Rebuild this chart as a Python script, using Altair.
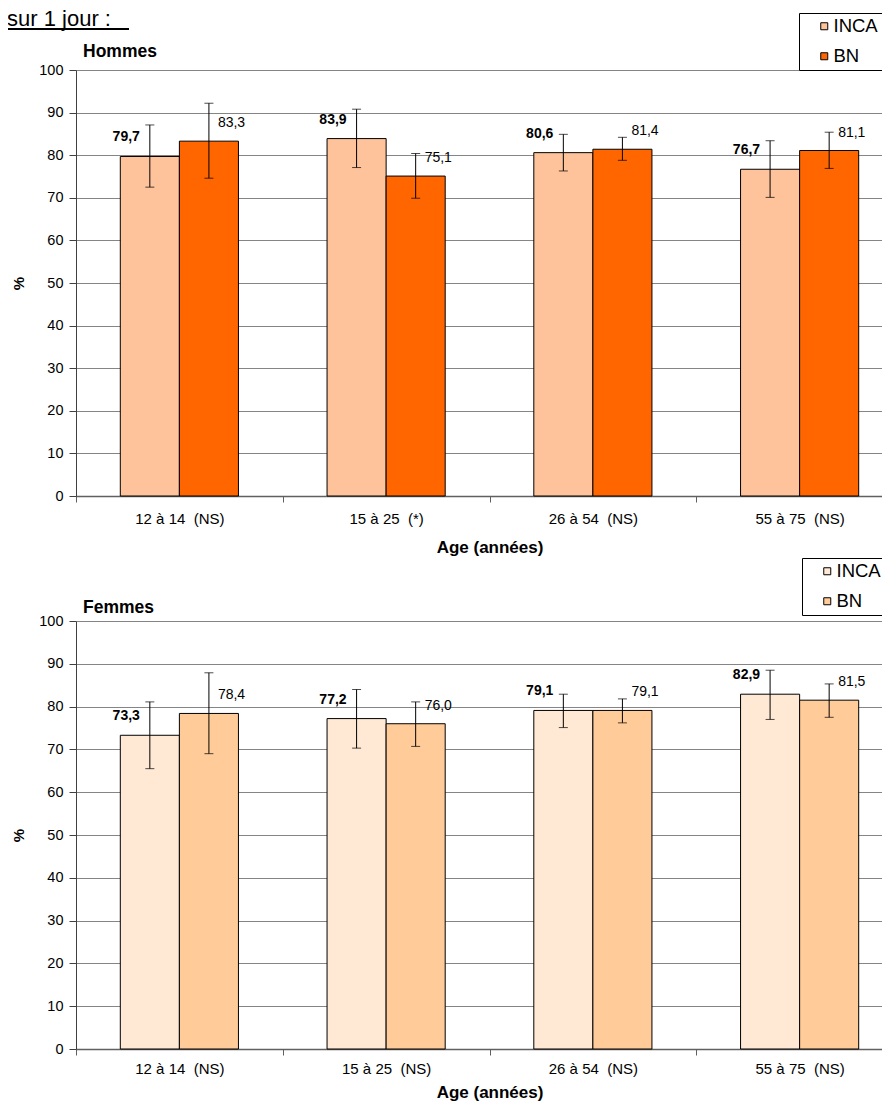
import altair as alt
import pandas as pd

FONT = "Liberation Sans"

series = ["INCA", "BN"]

# Hommes
h_ages = ["12 à 14\u00a0 (NS)", "15 à 25\u00a0 (*)", "26 à 54\u00a0 (NS)", "55 à 75\u00a0 (NS)"]
h_inca = [79.7, 83.9, 80.6, 76.7]
h_bn = [83.3, 75.1, 81.4, 81.1]
h_inca_lo = [72.5, 77.1, 76.3, 70.1]
h_inca_hi = [87.1, 90.8, 84.9, 83.4]
h_bn_lo = [74.6, 69.9, 78.8, 76.9]
h_bn_hi = [92.2, 80.4, 84.2, 85.4]

# Femmes
f_ages = ["12 à 14\u00a0 (NS)", "15 à 25\u00a0 (NS)", "26 à 54\u00a0 (NS)", "55 à 75\u00a0 (NS)"]
f_inca = [73.3, 77.2, 79.1, 82.9]
f_bn = [78.4, 76.0, 79.1, 81.5]
f_inca_lo = [65.5, 70.3, 75.1, 77.0]
f_inca_hi = [81.1, 84.0, 82.9, 88.5]
f_bn_lo = [69.0, 70.7, 76.2, 77.5]
f_bn_hi = [87.9, 81.1, 81.8, 85.3]

h_colors = ["#FFC39B", "#FF6600"]
f_colors = ["#FFE8D4", "#FFCC99"]


def make_df(ages, inca, bn, inca_lo, inca_hi, bn_lo, bn_hi):
    rows = []
    for i, a in enumerate(ages):
        rows.append(dict(age=a, serie="INCA", value=inca[i], lo=inca_lo[i], hi=inca_hi[i]))
        rows.append(dict(age=a, serie="BN", value=bn[i], lo=bn_lo[i], hi=bn_hi[i]))
    df = pd.DataFrame(rows)
    df["label"] = df["value"].map(lambda v: f"{v:.1f}".replace(".", ","))
    return df


def panel(df, ages, colors, name, name_y, legend_x, legend_y, height,
          label_pad, title_pad, extra=None):
    x = alt.X(
        "age:N", sort=ages, title="Age (années)",
        scale=alt.Scale(paddingInner=0, paddingOuter=0),
        axis=alt.Axis(
            labelAngle=0, tickBand="extent", tickSize=6, labelPadding=label_pad,
            titlePadding=title_pad, labelFontSize=15, titleFontSize=17,
            titleFontWeight="bold", domainColor="#606060", domainWidth=1.5,
            tickColor="#606060", grid=False, labelColor="black", titleColor="black",
        ),
    )
    xo = alt.XOffset("serie:N", sort=series,
                     scale=alt.Scale(paddingOuter=0.75, paddingInner=0))
    yax = alt.Axis(
        values=list(range(0, 101, 10)), tickSize=7, labelPadding=6,
        labelFontSize=14.5, labelColor="black", titleFontSize=15,
        titleFontWeight="bold", titleColor="black", titlePadding=12,
        domainColor="#404040", tickColor="#404040", grid=True,
        gridColor="#858585", gridWidth=1,
    )
    base = alt.Chart(df).encode(x=x, xOffset=xo)
    bars = base.mark_bar(stroke="black", strokeWidth=1).encode(
        y=alt.Y("value:Q", title="%", scale=alt.Scale(domain=[0, 100], nice=False), axis=yax),
        color=alt.Color(
            "serie:N", scale=alt.Scale(domain=series, range=colors),
            legend=alt.Legend(
                title=None, orient="none", legendX=legend_x, legendY=legend_y,
                fillColor="white", strokeColor="black", padding=4,
                symbolType="square", symbolSize=49, symbolStrokeColor="black",
                symbolStrokeWidth=1, symbolOffset=12, labelFontSize=18.5,
                labelColor="black", rowPadding=11, labelOffset=0,
            ),
        ),
    )
    err = base.mark_rule(color="black", strokeWidth=1).encode(y="lo:Q", y2="hi:Q")
    cap_lo = base.mark_tick(color="black", thickness=1, size=9).encode(y="lo:Q")
    cap_hi = base.mark_tick(color="black", thickness=1, size=9).encode(y="hi:Q")
    lab_inca = base.transform_filter(alt.datum.serie == "INCA").mark_text(
        align="right", baseline="middle", dx=-10, dy=-19, fontSize=14,
        fontWeight="bold", color="black",
    ).encode(y="value:Q", text="label:N")
    lab_bn = base.transform_filter(alt.datum.serie == "BN").mark_text(
        align="left", baseline="middle", dx=9, dy=-18, fontSize=14, color="black",
    ).encode(y="value:Q", text="label:N")
    title = alt.Chart(pd.DataFrame({"t": [name]})).mark_text(
        align="left", baseline="middle", fontSize=17.5, fontWeight="bold", color="black",
    ).encode(x=alt.value(7), y=alt.value(name_y), text="t:N")
    layers = [bars, err, cap_lo, cap_hi, lab_inca, lab_bn, title]
    if extra:
        layers += extra
    return alt.layer(*layers).properties(width=827, height=height)


head_text = alt.Chart(pd.DataFrame({"t": ["sur 1 jour :"]})).mark_text(
    align="left", baseline="alphabetic", fontSize=22, color="black",
).encode(x=alt.value(-69), y=alt.value(-44), text="t:N")
head_line = alt.Chart(pd.DataFrame({"t": ["sur 1 jour :"]})).mark_rule(
    color="black", strokeWidth=2,
).encode(x=alt.value(-69), x2=alt.value(53), y=alt.value(-41))

top = panel(make_df(h_ages, h_inca, h_bn, h_inca_lo, h_inca_hi, h_bn_lo, h_bn_hi),
            h_ages, h_colors, "Hommes", -18, 723, -57, 426, 9, 13,
            extra=[head_text, head_line])
bottom = panel(make_df(f_ages, f_inca, f_bn, f_inca_lo, f_inca_hi, f_bn_lo, f_bn_hi),
               f_ages, f_colors, "Femmes", -13, 726, -63, 428, 6, 8)

chart = alt.vconcat(top, bottom, spacing=2).resolve_scale(
    color="independent", x="independent", y="independent"
).properties(
    padding={"top": 0, "left": -2, "right": -22, "bottom": 2}
).configure(
    font=FONT,
).configure_view(stroke=None)

chart.save("out.html", embed_options={"renderer": "svg", "actions": False})
